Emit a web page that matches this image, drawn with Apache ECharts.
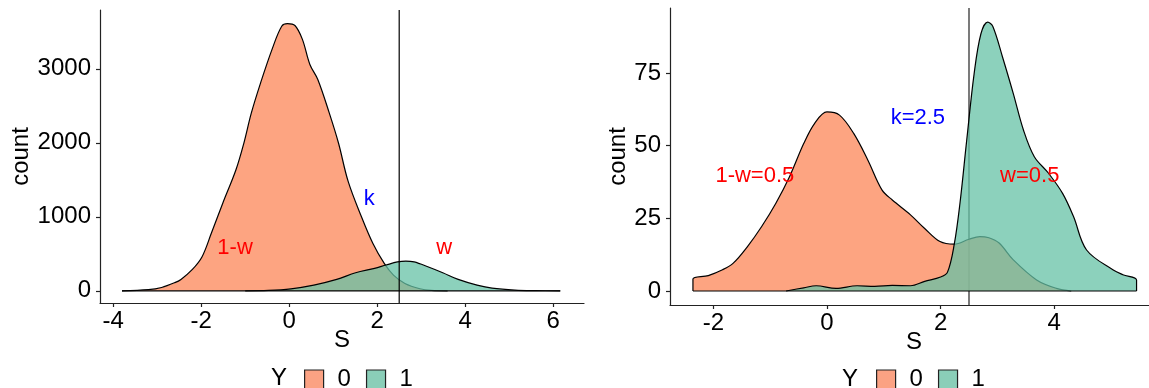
<!DOCTYPE html>
<html><head><meta charset="utf-8">
<script src="https://cdn.jsdelivr.net/npm/echarts@6/dist/echarts.min.js"></script>
<style>html,body{margin:0;padding:0;background:#fff}#c{width:1149px;height:388px}</style>
</head><body><div id="c"></div>
<script>
// ---- Left panel: density counts of S by Y ----
const leftX0 = [-3.8, -3.2, -2.9, -2.6, -2.46, -2.2, -1.98, -1.77, -1.51, -1.21, -1.03, -0.86, -0.65, -0.39, -0.17, -0.04, 0.13, 0.30, 0.47, 0.65, 0.91, 1.12, 1.34, 1.64, 1.90, 2.16, 2.37, 2.63, 2.97, 3.23, 3.6];
const leftY0 = [0, 15, 45, 110, 154, 289, 461, 777, 1184, 1636, 1997, 2404, 2810, 3263, 3575, 3610, 3585, 3398, 3059, 2856, 2404, 1997, 1478, 1003, 642, 370, 212, 99, 27, 5, 0];
const leftX1 = [-1.0, -0.47, 0.04, 0.56, 1.08, 1.51, 1.94, 2.2, 2.46, 2.65, 2.84, 3.15, 3.49, 3.84, 4.27, 4.61, 5.13, 5.6, 6.16];
const leftY1 = [0, 5, 27, 77, 154, 244, 303, 348, 390, 402, 390, 325, 244, 154, 77, 36, 9, 2, 0];

// ---- Right panel ----
const rightX0 = [-2.36, -2.36, -2.09, -1.84, -1.65, -1.40, -1.15, -0.90, -0.66, -0.41, -0.22, 0, 0.22, 0.47, 0.72, 0.97, 1.15, 1.47, 1.72, 1.99, 2.24, 2.5, 2.69, 2.85, 3.03, 3.28, 3.69, 4.04, 4.3];
const rightY0 = [0, 4.1, 5.3, 7.3, 9.6, 15.3, 22.2, 30.2, 39.3, 50.7, 57.6, 61.6, 60.5, 54.2, 45.0, 34.7, 31.3, 26.2, 21.5, 17.0, 16.1, 17.8, 18.7, 18.3, 16.5, 10.7, 3.8, 0.9, 0];
const rightX1 = [-0.72, -0.41, -0.19, 0.16, 0.53, 0.84, 1.15, 1.47, 1.72, 2.0, 2.12, 2.24, 2.34, 2.46, 2.59, 2.71, 2.83, 2.92, 3.09, 3.28, 3.46, 3.65, 3.90, 4.15, 4.34, 4.57, 5.04, 5.21, 5.45, 5.45];
const rightY1 = [0, 1.1, 1.8, 0.9, 1.8, 1.6, 1.9, 1.8, 3.3, 4.8, 6.4, 16.0, 30.0, 51.9, 74.7, 88.5, 92.5, 91.0, 80.5, 67.9, 55.3, 46.2, 40.5, 33.5, 25.6, 14.1, 7.2, 5.6, 3.8, 0];

// ---- Ticks, threshold and annotations ----
const leftXTicks = [-4, -2, 0, 2, 4, 6];
const leftYTicks = [0, 1000, 2000, 3000];
const rightXTicks = [-2, 0, 2, 4];
const rightYTicks = [0, 25, 50, 75];
const kValue = 2.5;
const leftNotes = ['1-w', 'k', 'w'];
const leftNoteX = [-1.23, 1.82, 3.52];
const leftNoteY = [581, 1243, 581];
const rightNotes = ['1-w=0.5', 'k=2.5', 'w=0.5'];
const rightNoteX = [-1.27, 1.60, 3.57];
const rightNoteY = [39.6, 59.5, 39.6];
const noteColors = ['#FF0000', '#0000FF', '#FF0000'];
const groups = ['0', '1'];

const FONT = 'Liberation Sans, Arial, sans-serif';
const RED = '#FC8D62', GREEN = '#66C2A5';
const FS = 24;
const pairs = (xs, ys) => xs.map((x, i) => [x, ys[i]]);

function xAxis(gi, min, max, ticks, extra) {
  return Object.assign({
    type: 'value', gridIndex: gi, min: min, max: max,
    axisLine: { show: true, onZero: false, lineStyle: { color: '#222', width: 1.2 } },
    axisTick: { show: true, length: 4, customValues: ticks, lineStyle: { color: '#222', width: 1.2 } },
    axisLabel: { customValues: ticks, fontSize: FS, color: '#000', margin: 6, fontFamily: FONT, formatter: v => String(v) },
    splitLine: { show: false },
    name: 'S', nameLocation: 'middle', nameGap: 25, nameMoveOverlap: false,
    nameTextStyle: { fontSize: FS, color: '#000', fontFamily: FONT }
  }, extra || {});
}
function yAxis(gi, min, max, ticks, gap) {
  return {
    type: 'value', gridIndex: gi, min: min, max: max,
    axisLine: { show: true, onZero: false, lineStyle: { color: '#222', width: 1.2 } },
    axisTick: { show: true, length: 4, customValues: ticks, lineStyle: { color: '#222', width: 1.2 } },
    axisLabel: { customValues: ticks, fontSize: FS, color: '#000', margin: 9, fontFamily: FONT, formatter: v => String(v) },
    splitLine: { show: false },
    name: 'count', nameLocation: 'middle', nameGap: gap, nameRotate: 90, nameMoveOverlap: false,
    nameTextStyle: { fontSize: FS, color: '#000', fontFamily: FONT }
  };
}
function density(name, gi, data, color, opacity, z) {
  return {
    type: 'line', name: name, xAxisIndex: gi, yAxisIndex: gi, data: data,
    smooth: 0.35, symbol: 'none', z: z,
    lineStyle: { color: '#000', width: 1.2 },
    itemStyle: { color: color },
    areaStyle: { color: color, opacity: opacity, origin: 'auto' }
  };
}
function plainLine(gi, data, z, color) {
  return {
    type: 'line', xAxisIndex: gi, yAxisIndex: gi, data: data, symbol: 'none', z: z,
    lineStyle: { color: color || '#000', width: 1.2 }, silent: true, tooltip: { show: false }
  };
}
function notes(gi, labels, xs, ys, z) {
  return {
    type: 'scatter', xAxisIndex: gi, yAxisIndex: gi, symbolSize: 0, z: z, silent: true,
    data: labels.map((t, i) => ({
      name: t, value: [xs[i], ys[i]],
      label: { show: true, position: 'inside', formatter: t, color: noteColors[i], fontSize: 22, fontFamily: FONT, opacity: 1 }
    }))
  };
}
function legendFor(left) {
  return {
    left: left, top: 367.5, padding: 0, icon: 'rect', itemWidth: 19, itemHeight: 19, itemGap: 15,
    selectedMode: false,
    formatter: n => '{a|' + n + '}',
    textStyle: { fontSize: FS, color: '#000', fontFamily: FONT, rich: { a: { padding: [0, 0, 0, 9], fontSize: FS, fontFamily: FONT, color: '#000' } } },
    data: [
      { name: groups[0], itemStyle: { color: '#FBA283', borderColor: '#222', borderWidth: 1.2 } },
      { name: groups[1], itemStyle: { color: '#8ACEB8', borderColor: '#222', borderWidth: 1.2 } }
    ]
  };
}

const chart = echarts.init(document.getElementById('c'), null, { renderer: 'canvas' });
chart.setOption({
  animation: false,
  backgroundColor: '#fff',
  grid: [
    { left: 100, top: 10, width: 484, height: 293 },
    { left: 670, top: 8, width: 479, height: 297 }
  ],
  xAxis: [
    xAxis(0, -4.3, 6.7, leftXTicks),
    xAxis(1, -2.764, 5.669, rightXTicks, { nameTextStyle: { fontSize: FS, color: '#000', fontFamily: FONT, padding: [0, 0, 0, 9] }, nameGap: 25 })
  ],
  yAxis: [
    yAxis(0, -165, 3795, leftYTicks, 67),
    yAxis(1, -4.82, 97.35, rightYTicks, 40)
  ],
  legend: [legendFor(304), legendFor(876)],
  graphic: [
    { type: 'text', left: 271, top: 366, style: { text: 'Y', fontSize: FS, fill: '#000', fontFamily: FONT } },
    { type: 'text', left: 842, top: 367, style: { text: 'Y', fontSize: FS, fill: '#000', fontFamily: FONT } }
  ],
  series: [
    density(groups[0], 0, pairs(leftX0, leftY0), RED, 0.8, 2),
    density(groups[1], 0, pairs(leftX1, leftY1), GREEN, 0.75, 3),
    plainLine(0, [[leftX0[0], 0], [leftX1[leftX1.length - 1], 0]], 4),
    plainLine(0, [[kValue, -165], [kValue, 3795]], 5),
    notes(0, leftNotes, leftNoteX, leftNoteY, 6),

    plainLine(1, [[kValue, -4.82], [kValue, 97.35]], 1, '#222'),
    density(groups[0], 1, pairs(rightX0, rightY0), RED, 0.8, 2),
    density(groups[1], 1, pairs(rightX1, rightY1), GREEN, 0.75, 3),
    plainLine(1, [[rightX0[0], 0], [rightX1[rightX1.length - 1], 0]], 4),
    notes(1, rightNotes, rightNoteX, rightNoteY, 6)
  ]
});
</script></body></html>
